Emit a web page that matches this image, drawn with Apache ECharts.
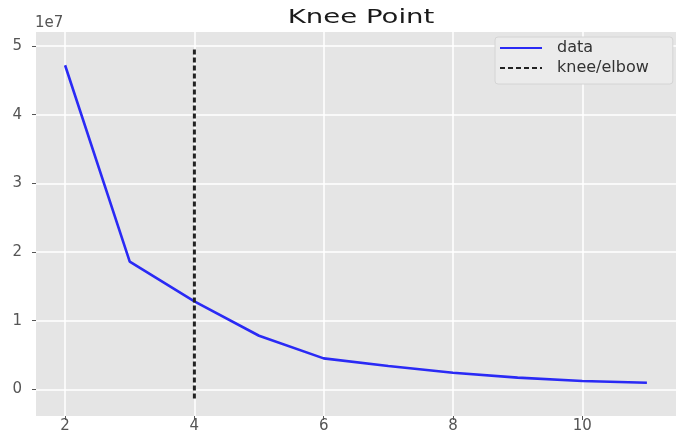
<!DOCTYPE html>
<html><head><meta charset="utf-8">
<script src="https://cdn.jsdelivr.net/npm/echarts@6/dist/echarts.min.js"></script>
<style>html,body{margin:0;padding:0;background:#fff}#c{width:676px;height:438px}</style>
</head><body><div id="c"></div>
<script>
const kValues = [2, 3, 4, 5, 6, 7, 8, 9, 10, 11];
const inertia = [47200000, 18600000, 12800000, 7800000, 4500000, 3400000, 2400000, 1700000, 1200000, 950000];
const kneeX = 4;
const kneeSpan = [-1350000, 49500000];
const xTicks = [2, 4, 6, 8, 10];
const yTicks = [0, 10000000, 20000000, 30000000, 40000000, 50000000];
const yScaleLabel = '1e7';
const titleText = 'Knee Point';
const seriesNames = ['data', 'knee/elbow'];

const font = 'DejaVu Sans';
const chart = echarts.init(document.getElementById('c'), null, {renderer: 'canvas'});
chart.setOption({
  animation: false,
  backgroundColor: '#ffffff',
  graphic: [
    {type: 'text', x: 361, y: 9, scaleX: 1.45, originX: 0, originY: 0,
      style: {text: titleText, textAlign: 'center', textVerticalAlign: 'top', font: '19px "DejaVu Sans"', fill: '#1a1a1a'}},
    {type: 'text', left: 35, top: 16, style: {text: yScaleLabel, font: '15px "DejaVu Sans"', fill: '#555'}}
  ],
  legend: {
    left: 495, top: 37, orient: 'vertical', itemWidth: 42, itemHeight: 14, itemGap: 4,
    padding: [3, 24, 8, 4], backgroundColor: '#ebebeb', borderColor: '#d4d4d4', borderWidth: 1, borderRadius: 3,
    itemStyle: {opacity: 0},
    textStyle: {fontFamily: font, fontSize: 16, color: '#333', padding: [0, 0, 0, 10]},
    data: seriesNames
  },
  grid: {left: 36, right: -10, top: 32, bottom: 22, show: true, backgroundColor: '#E5E5E5', borderWidth: 0},
  xAxis: {
    type: 'value', min: 1.55, max: 11.45,
    axisLine: {show: false, onZero: false},
    axisTick: {show: true, length: 4, lineStyle: {color: '#555'}, customValues: xTicks},
    axisLabel: {customValues: xTicks, fontFamily: font, fontSize: 15, color: '#555', margin: 3},
    splitLine: {show: true, lineStyle: {color: '#ffffff', width: 1.5}}
  },
  yAxis: {
    type: 'value', min: -3890000, max: 52040000,
    axisLine: {show: false, onZero: false},
    axisTick: {show: true, length: 4, lineStyle: {color: '#555'}, customValues: yTicks},
    axisLabel: {customValues: yTicks, fontFamily: font, fontSize: 15, color: '#555', margin: 14,
      formatter: v => String(Math.round(v / 1e7))},
    splitLine: {show: true, lineStyle: {color: '#ffffff', width: 1.5}}
  },
  series: [
    {name: seriesNames[0], type: 'line', symbol: 'none', color: '#2a2af5',
      lineStyle: {width: 2.6, color: '#2a2af5'},
      data: kValues.map((k, i) => [k, inertia[i]])},
    {name: seriesNames[1], type: 'line', symbol: 'none', color: '#222',
      lineStyle: {width: 3, color: '#222', type: [5, 3]},
      data: [[kneeX, kneeSpan[0]], [kneeX, kneeSpan[1]]]}
  ]
});
</script></body></html>
